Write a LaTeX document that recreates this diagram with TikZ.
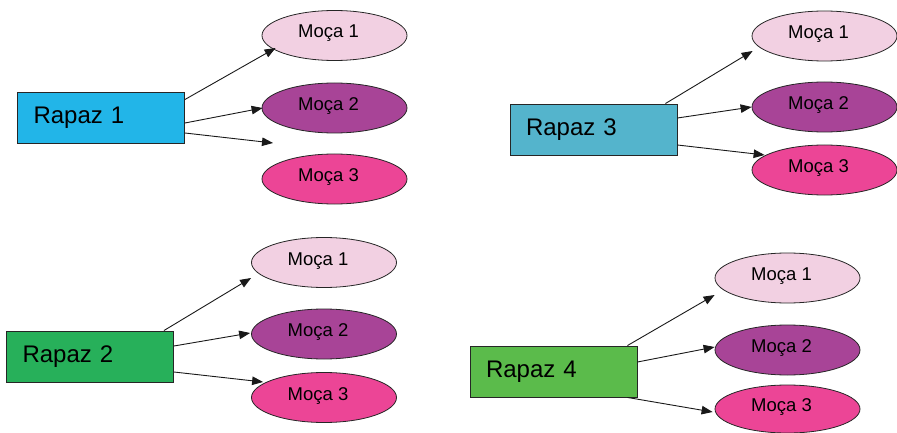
\documentclass[tikz,border=0pt]{standalone}
\usepackage{fontspec}
\setmainfont{Liberation Sans}
\usetikzlibrary{shapes.geometric,arrows.meta}
\definecolor{rA}{HTML}{22B5E8}
\definecolor{rB}{HTML}{54B4CC}
\definecolor{rC}{HTML}{27B05A}
\definecolor{rD}{HTML}{5BBB4B}
\definecolor{mA}{HTML}{F2D0E2}
\definecolor{mB}{HTML}{A84497}
\definecolor{mC}{HTML}{EC4596}
\newcommand{\mtxt}[1]{\hspace*{-12pt}#1}
\tikzset{
  rapaz/.style={draw=black!85, line width=0.9pt, rectangle, minimum height=51pt,
    inner xsep=16pt, text width=135pt, align=left,
    font=\fontsize{24}{28}\selectfont},
  moca/.style={draw=black!85, line width=0.8pt, ellipse, minimum width=145pt,
    minimum height=50pt, inner sep=0pt, text height=13pt, text depth=8pt,
    font=\fontsize{18.5}{21}\selectfont},
  con/.style={draw=black!90, line width=0.9pt, -{Triangle[length=11pt,width=8.5pt]}}
}
\begin{document}
\begin{tikzpicture}[x=1pt,y=-1pt]
\useasboundingbox (0,0) rectangle (897,433);
% group 1
\node[rapaz, fill=rA] (r1) at (101,117.5) {Rapaz 1};
\node[moca, fill=mA] (m11) at (334.5,35.5) {\mtxt{Moça 1}};
\node[moca, fill=mB] (m12) at (334.5,108) {\mtxt{Moça 2}};
\node[moca, fill=mC] (m13) at (334.5,179) {\mtxt{Moça 3}};
\coordinate (f1) at (273,143);
\draw[con] ([yshift=18pt]r1.east) -- ([xshift=14pt,yshift=-12.5pt]m11.west);
\draw[con] ([yshift=-5.5pt]r1.east) -- ([xshift=1pt]m12.west);
\draw[con] ([yshift=-15.5pt]r1.east) -- (f1);
% group 3
\node[rapaz, fill=rB] (r3) at (593.5,129.5) {Rapaz 3};
\node[moca, fill=mA] (m31) at (824.5,36) {\mtxt{Moça 1}};
\node[moca, fill=mB] (m32) at (824.5,107) {\mtxt{Moça 2}};
\node[moca, fill=mC] (m33) at (824.5,170) {\mtxt{Moça 3}};
\draw[con] ([xshift=-12pt]r3.north east) -- ([xshift=1pt,yshift=-15pt]m31.west);
\draw[con] ([yshift=11.5pt]r3.east) -- (m32.west);
\draw[con] ([yshift=-15.5pt]r3.east) -- ([xshift=13pt,yshift=15pt]m33.west);
% group 2
\node[rapaz, fill=rC] (r2) at (90,356.5) {Rapaz 2};
\node[moca, fill=mA] (m21) at (324,262.5) {\mtxt{Moça 1}};
\node[moca, fill=mB] (m22) at (324,334) {\mtxt{Moça 2}};
\node[moca, fill=mC] (m23) at (324,397.5) {\mtxt{Moça 3}};
\draw[con] ([xshift=-10pt]r2.north east) -- ([yshift=-15.5pt]m21.west);
\draw[con] ([yshift=10.5pt]r2.east) -- ([xshift=-1pt,yshift=1pt]m22.west);
\draw[con] ([yshift=-15.5pt]r2.east) -- ([xshift=12pt,yshift=15.5pt]m23.west);
% group 4
\node[rapaz, fill=rD] (r4) at (553.5,371.5) {Rapaz 4};
\node[moca, fill=mA] (m41) at (787.5,278) {\mtxt{Moça 1}};
\node[moca, fill=mB] (m42) at (787.5,350) {\mtxt{Moça 2}};
\node[moca, fill=mC, minimum height=48pt] (m43) at (787.5,409) {\mtxt{Moça 3}};
\draw[con] ([xshift=-10pt]r4.north east) -- ([yshift=-17pt]m41.west);
\draw[con] ([yshift=9.5pt]r4.east) -- ([yshift=3pt]m42.west);
\draw[con] ([xshift=-10pt]r4.south east) -- ([xshift=-2pt,yshift=-3pt]m43.west);
\end{tikzpicture}
\end{document}
